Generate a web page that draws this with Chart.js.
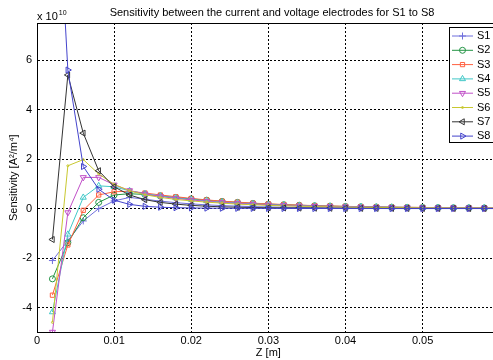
<!DOCTYPE html>
<html>
<head>
<meta charset="utf-8">
<script src="https://cdn.jsdelivr.net/npm/chart.js@4"></script>
<style>
  html, body { margin: 0; padding: 0; overflow: hidden; background: #fff; }
  #wrap { position: absolute; left: 0; top: 0; width: 512px; height: 360px; }
</style>
</head>
<body>
<div id="wrap"><canvas id="myChart"></canvas></div>
<script>
// values are in units of 1e10 (axis multiplier shown as "x 10^10")
const zValues = [0.002, 0.004, 0.006, 0.008, 0.010, 0.012, 0.014, 0.016, 0.018, 0.020,
                 0.022, 0.024, 0.026, 0.028, 0.030, 0.032, 0.034, 0.036, 0.038, 0.040,
                 0.042, 0.044, 0.046, 0.048, 0.050, 0.052, 0.054, 0.056, 0.058, 0.060];

const s1 = [-2.1, -1.3, -0.5, 0.0, 0.31, 0.45, 0.38, 0.3, 0.24, 0.19, 0.15, 0.12, 0.1, 0.08, 0.065,
            0.055, 0.045, 0.038, 0.032, 0.027, 0.023, 0.02, 0.017, 0.015, 0.013, 0.011, 0.01, 0.009, 0.008, 0.007];
const s2 = [-2.84, -1.38, -0.37, 0.25, 0.55, 0.6, 0.57, 0.51, 0.45, 0.39, 0.34, 0.29, 0.25, 0.21, 0.18,
            0.155, 0.135, 0.115, 0.1, 0.085, 0.074, 0.064, 0.056, 0.049, 0.043, 0.038, 0.033, 0.029, 0.026, 0.023];
const s3 = [-3.5, -1.47, -0.07, 0.55, 0.68, 0.7, 0.63, 0.55, 0.48, 0.41, 0.35, 0.3, 0.26, 0.22, 0.19,
            0.165, 0.14, 0.12, 0.105, 0.09, 0.078, 0.068, 0.06, 0.052, 0.046, 0.04, 0.035, 0.031, 0.027, 0.024];
const s4 = [-4.18, -1.04, 0.45, 0.92, 0.88, 0.72, 0.6, 0.51, 0.43, 0.37, 0.31, 0.26, 0.22, 0.19, 0.16,
            0.14, 0.12, 0.1, 0.088, 0.076, 0.066, 0.057, 0.05, 0.044, 0.038, 0.034, 0.03, 0.026, 0.023, 0.02];
const s5 = [-4.99, -0.16, 1.26, 1.26, 0.96, 0.73, 0.59, 0.49, 0.41, 0.35, 0.29, 0.25, 0.21, 0.18, 0.15,
            0.13, 0.11, 0.095, 0.082, 0.071, 0.062, 0.054, 0.047, 0.041, 0.036, 0.032, 0.028, 0.025, 0.022, 0.02];
const s6 = [-4.6, 1.73, 1.98, 1.4, 0.98, 0.72, 0.56, 0.45, 0.37, 0.31, 0.26, 0.22, 0.18, 0.155, 0.13,
            0.11, 0.095, 0.082, 0.07, 0.06, 0.052, 0.045, 0.04, 0.035, 0.03, 0.027, 0.024, 0.021, 0.019, 0.017];
const s7 = [-1.25, 5.4, 3.05, 1.53, 0.88, 0.55, 0.36, 0.25, 0.18, 0.13, 0.095, 0.07, 0.055, 0.042, 0.033,
            0.026, 0.021, 0.017, 0.014, 0.012, 0.01, 0.009, 0.008, 0.007, 0.006, 0.005, 0.005, 0.004, 0.004, 0.003];
const s8 = [17, 5.6, 1.7, 0.78, 0.34, 0.17, 0.09, 0.055, 0.035, 0.025, 0.018, 0.013, 0.01, 0.008, 0.006,
            0.005, 0.004, 0.003, 0.003, 0.002, 0.002, 0.002, 0.001, 0.001, 0.001, 0.001, 0.001, 0.001, 0.001, 0.001];

const seriesValues = [s1, s2, s3, s4, s5, s6, s7, s8];
const seriesNames = ["S1", "S2", "S3", "S4", "S5", "S6", "S7", "S8"];
const seriesColors = ["#6f6fdc", "#229444", "#ff6040", "#40c8c8", "#c050c8", "#c8c830", "#333333", "#4444cc"];
const pointStyles = ["cross", "circle", "rect", "triangle", "triangle", "circle", "triangle", "triangle"];
const pointRotations = [0, 0, 0, 0, 180, 0, 270, 90];
const pointRadii = [3.5, 3, 3, 3.5, 3.5, 1, 3.5, 3.5];

const xTicks = [0, 0.01, 0.02, 0.03, 0.04, 0.05];
const yTicks = [-4, -2, 0, 2, 4, 6];

const titleText = "Sensitivity between the current and voltage electrodes for S1 to S8";
const FONT = "'Liberation Sans', Arial, sans-serif";

const datasets = seriesValues.map((vals, i) => ({
  label: seriesNames[i],
  data: zValues.map((z, j) => ({ x: z, y: vals[j] })),
  borderColor: seriesColors[i],
  backgroundColor: "rgba(0,0,0,0)",
  pointBorderColor: seriesColors[i],
  pointBackgroundColor: "rgba(0,0,0,0)",
  borderWidth: 1,
  pointBorderWidth: 1,
  pointStyle: pointStyles[i],
  pointRotation: pointRotations[i],
  pointRadius: pointRadii[i],
  tension: 0,
  fill: false,
  order: 7 - i,
}));

// frame, title, exponent label and the legend box
const extras = {
  id: "extras",
  afterDraw(chart) {
    const ctx = chart.ctx;
    const a = chart.chartArea;
    ctx.save();
    ctx.strokeStyle = "#000";
    ctx.lineWidth = 1;
    ctx.setLineDash([]);
    const l = Math.round(a.left) + 0.5, t = Math.round(a.top) + 0.5;
    const r = Math.round(a.right) + 0.5, b = Math.round(a.bottom) + 0.5;
    ctx.strokeRect(l, t, r - l, b - t);

    ctx.fillStyle = "#000";
    ctx.font = "11px " + FONT;
    ctx.textAlign = "center";
    ctx.textBaseline = "middle";
    ctx.fillText(titleText, 272, 13);

    ctx.textAlign = "left";
    ctx.fillText("x 10", 37, 17);
    const w = ctx.measureText("x 10").width;
    ctx.font = "7px " + FONT;
    ctx.fillText("10", 37 + w + 1, 13);

    // legend
    const bx = 449.5, by = 27.5, bw = 48, bh = 115;
    ctx.fillStyle = "#fff";
    ctx.fillRect(bx, by, bw, bh);
    ctx.strokeStyle = "#000";
    ctx.strokeRect(bx, by, bw, bh);
    ctx.font = "11px " + FONT;
    ctx.textBaseline = "middle";
    seriesNames.forEach((name, i) => {
      const y = 36 + i * 14.3;
      ctx.strokeStyle = seriesColors[i];
      ctx.lineWidth = 1;
      ctx.beginPath();
      ctx.moveTo(452, y);
      ctx.lineTo(473, y);
      ctx.stroke();
      ctx.fillStyle = "rgba(0,0,0,0)";
      Chart.helpers.drawPoint(ctx, {
        pointStyle: pointStyles[i],
        rotation: pointRotations[i],
        radius: pointRadii[i],
        borderWidth: 1,
      }, 462.5, y);
      ctx.fillStyle = "#000";
      ctx.fillText(name, 477, y);
    });
    ctx.restore();
  },
};

const axisFont = { size: 11, family: FONT };

new Chart(document.querySelector("#myChart"), {
  type: "line",
  data: { datasets },
  options: {
    responsive: true,
    maintainAspectRatio: false,
    animation: false,
    layout: { padding: { left: 0, top: 23, right: 12.3, bottom: 0 } },
    plugins: {
      legend: { display: false },
      title: { display: false },
      tooltip: { enabled: false },
    },
    scales: {
      x: {
        type: "linear",
        min: 0,
        max: 0.06,
        afterBuildTicks: (s) => { s.ticks = xTicks.map((v) => ({ value: v })); },
        afterFit: (s) => { s.height = 27.7; },
        grid: { color: "#000", lineWidth: 1, drawTicks: false },
        border: { display: true, color: "#000", dash: [2, 2] },
        ticks: {
          padding: 2,
          maxRotation: 0,
          color: "#000",
          font: axisFont,
          callback: (v) => (v === 0 ? "0" : v.toFixed(2)),
        },
        title: { display: true, text: "Z [m]", color: "#000", font: axisFont, padding: { top: 0, bottom: 0 } },
      },
      y: {
        type: "linear",
        min: -5,
        max: 7.5,
        afterBuildTicks: (s) => { s.ticks = yTicks.map((v) => ({ value: v })); },
        afterFit: (s) => { s.width = 37; },
        grid: { color: "#000", lineWidth: 1, drawTicks: false },
        border: { display: true, color: "#000", dash: [2, 2] },
        ticks: { padding: 5, color: "#000", font: axisFont },
        title: { display: true, text: "Sensitivity [A²/m⁴]", color: "#000", font: axisFont, padding: { top: 7 } },
      },
    },
  },
  plugins: [extras],
});
</script>
</body>
</html>
